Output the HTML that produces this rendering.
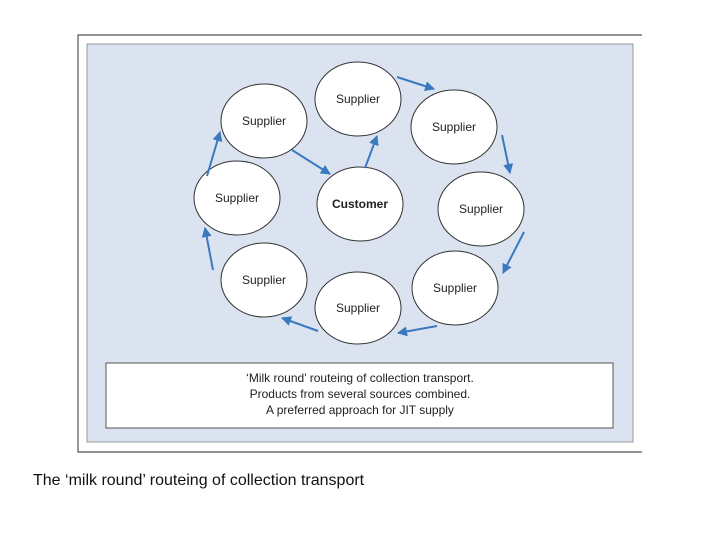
<!DOCTYPE html>
<html><head><meta charset="utf-8"><style>
body{margin:0;width:720px;height:540px;background:#fff;overflow:hidden;font-family:"Liberation Sans",sans-serif}
</style></head><body>
<svg width="720" height="540" xmlns="http://www.w3.org/2000/svg" style="position:absolute;left:0;top:0">
<defs><marker id="a" viewBox="0 0 10 10" refX="9" refY="5" markerWidth="5" markerHeight="5" orient="auto"><path d="M0,0 L10,5 L0,10 z" fill="#3a78c0"/></marker></defs>
<path d="M642,35 H78 V452 H642" fill="none" stroke="#555" stroke-width="1.2"/>
<rect x="87" y="44" width="546" height="398" fill="#dbe3f1" stroke="#999" stroke-width="1"/>
<g fill="#fff" stroke="#333" stroke-width="1">
<ellipse cx="358" cy="99" rx="43" ry="37"/>
<ellipse cx="264" cy="121" rx="43" ry="37"/>
<ellipse cx="454" cy="127" rx="43" ry="37"/>
<ellipse cx="237" cy="198" rx="43" ry="37"/>
<ellipse cx="360" cy="204" rx="43" ry="37"/>
<ellipse cx="481" cy="209" rx="43" ry="37"/>
<ellipse cx="264" cy="280" rx="43" ry="37"/>
<ellipse cx="358" cy="308" rx="43" ry="36"/>
<ellipse cx="455" cy="288" rx="43" ry="37"/>
</g>
<g font-size="12" fill="#222" text-anchor="middle">
<text x="358" y="103">Supplier</text>
<text x="264" y="125">Supplier</text>
<text x="454" y="131">Supplier</text>
<text x="237" y="202">Supplier</text>
<text x="360" y="208" font-weight="bold">Customer</text>
<text x="481" y="213">Supplier</text>
<text x="264" y="284">Supplier</text>
<text x="358" y="312">Supplier</text>
<text x="455" y="292">Supplier</text>
</g>
<g stroke="#3a78c0" stroke-width="2" marker-end="url(#a)">
<line x1="397" y1="77" x2="434" y2="89"/>
<line x1="502" y1="135" x2="510" y2="173"/>
<line x1="524" y1="232" x2="503" y2="273"/>
<line x1="437" y1="326" x2="398" y2="333"/>
<line x1="318" y1="331" x2="282" y2="318"/>
<line x1="213" y1="270" x2="205" y2="228"/>
<line x1="207" y1="176" x2="220" y2="132"/>
<line x1="292" y1="150" x2="330" y2="174"/>
<line x1="365" y1="168" x2="377" y2="136"/>
</g>
<rect x="106" y="363" width="507" height="65" fill="#fff" stroke="#555" stroke-width="1"/>
<g font-size="12" fill="#222" text-anchor="middle">
<text x="360" y="382">‘Milk round’ routeing of collection transport.</text>
<text x="360" y="398">Products from several sources combined.</text>
<text x="360" y="414">A preferred approach for JIT supply</text>
</g>
<text x="33" y="485" font-size="16" fill="#111">The ‘milk round’ routeing of collection transport</text>
</svg>
</body></html>
